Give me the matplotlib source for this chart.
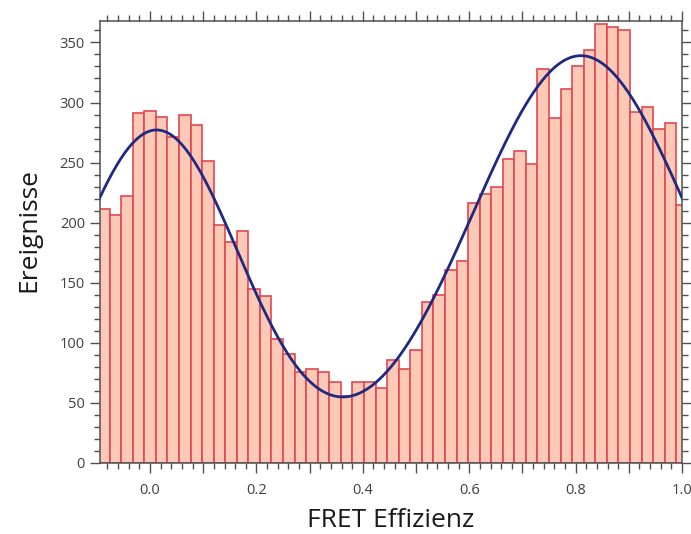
import numpy as np
import matplotlib
matplotlib.use("Agg")
import matplotlib.pyplot as plt
from matplotlib.ticker import MultipleLocator, FuncFormatter

plt.rcParams['font.family'] = ['Open Sans', 'DejaVu Sans']

# Histogram of FRET efficiencies: bins of width 1/46, centred on k/46
bin_index = np.arange(-4, 47)
bin_width = 1.0 / 46.0
counts = [211, 206, 222, 291, 293, 288, 271, 290, 281, 251,
          198, 184, 193, 145, 139, 103, 91, 76, 78, 76,
          67, 56, 67, 67, 62, 86, 78, 94, 134, 140,
          161, 168, 216, 224, 230, 253, 260, 249, 328, 287,
          311, 330, 344, 365, 363, 360, 292, 296, 278, 283, 215]

# Two-population Gaussian fit (amplitude, centre, width)
fit_low = (277.0, 0.012, 0.158)
fit_high = (339.0, 0.810, 0.205)

centers = bin_index * bin_width

fig = plt.figure(figsize=(6.91, 5.34), dpi=100)
ax = fig.add_axes([0.144, 0.133, 0.843, 0.828])

ax.bar(centers, counts, width=bin_width, align='center',
       facecolor='#fbc9b5', edgecolor='#e4474f', linewidth=1.2, zorder=2)

xf = np.linspace(-0.095, 1.0, 400)
def gauss(x, a, mu, s):
    return a * np.exp(-(x - mu) ** 2 / (2 * s ** 2))
yf = gauss(xf, *fit_low) + gauss(xf, *fit_high)
ax.plot(xf, yf, color='#1e2a82', linewidth=2.0, zorder=3)

ax.set_xlim(-0.095, 1.0)
ax.set_ylim(0, 368)

ax.xaxis.set_major_locator(MultipleLocator(0.1))
ax.xaxis.set_minor_locator(MultipleLocator(0.02))
ax.xaxis.set_major_formatter(FuncFormatter(
    lambda v, p: f"{v:.1f}" if int(round(v * 10)) % 2 == 0 else ""))
ax.yaxis.set_major_locator(MultipleLocator(50))
ax.yaxis.set_minor_locator(MultipleLocator(10))

ax.tick_params(which='both', direction='out', top=True, right=True,
               color='#505050', labelcolor='#404040', labelsize=10.5)
ax.tick_params(which='major', length=7.5, width=1.0)
ax.tick_params(which='minor', length=4, width=1.0)
ax.tick_params(axis='x', which='major', pad=7)
ax.tick_params(axis='y', which='major', pad=3)

for sp in ax.spines.values():
    sp.set_color('#505050')
    sp.set_linewidth(1.1)

ax.set_xlabel('FRET Effizienz', fontsize=19, color='#1a1a1a')
ax.set_ylabel('Ereignisse', fontsize=19, color='#1a1a1a')
ax.xaxis.label.set_va('center')
ax.yaxis.label.set_va('center')
ax.xaxis.set_label_coords(0.5, -0.131)
ax.yaxis.set_label_coords(-0.121, 0.527)

fig.savefig('out.png', dpi=100)
